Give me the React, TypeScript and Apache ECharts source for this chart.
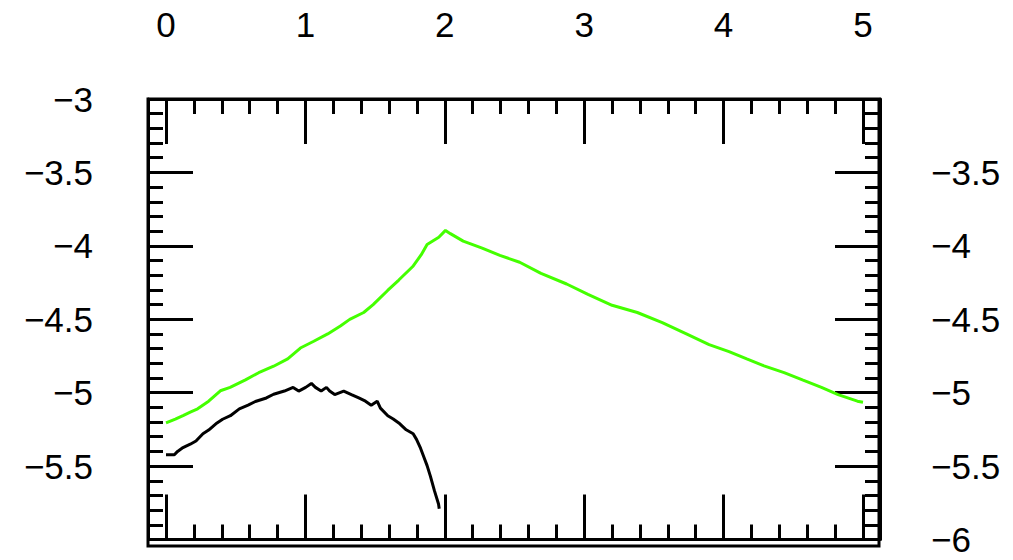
import React, { useEffect, useRef } from "react";
import * as echarts from "echarts";

const xTickLabels = ["0", "1", "2", "3", "4", "5"];
const leftHidden = [-6];
const rightHidden = [-3];

const greenX = [0, 0.067, 0.126, 0.174, 0.227, 0.306, 0.39, 0.46, 0.57, 0.665, 0.772, 0.873, 0.964, 1.06, 1.16, 1.251, 1.318, 1.418, 1.486, 1.59, 1.67, 1.77, 1.83, 1.873, 1.957, 2.005, 2.04, 2.132, 2.268, 2.395, 2.537, 2.69, 2.874, 3.027, 3.2, 3.381, 3.56, 3.733, 3.896, 4.039, 4.166, 4.29, 4.434, 4.57, 4.702, 4.821, 4.96, 5.0];
const greenY = [-5.206, -5.18, -5.154, -5.132, -5.11, -5.058, -4.987, -4.964, -4.913, -4.864, -4.82, -4.77, -4.696, -4.65, -4.6, -4.546, -4.501, -4.454, -4.4, -4.304, -4.233, -4.141, -4.062, -3.991, -3.942, -3.895, -3.917, -3.968, -4.015, -4.065, -4.112, -4.188, -4.26, -4.331, -4.405, -4.454, -4.523, -4.6, -4.673, -4.72, -4.77, -4.817, -4.864, -4.915, -4.964, -5.013, -5.058, -5.065];

const blackX = [0, 0.06, 0.083, 0.122, 0.174, 0.215, 0.265, 0.306, 0.366, 0.406, 0.462, 0.526, 0.589, 0.641, 0.72, 0.772, 0.849, 0.912, 0.952, 1.002, 1.043, 1.072, 1.113, 1.151, 1.174, 1.21, 1.275, 1.33, 1.383, 1.431, 1.472, 1.515, 1.538, 1.591, 1.63, 1.67, 1.723, 1.773, 1.797, 1.826, 1.849, 1.873, 1.897, 1.926, 1.955, 1.96];
const blackY = [-5.423, -5.423, -5.4, -5.374, -5.351, -5.329, -5.28, -5.255, -5.206, -5.181, -5.157, -5.11, -5.085, -5.06, -5.036, -5.011, -4.989, -4.964, -4.989, -4.964, -4.937, -4.964, -4.989, -4.964, -4.989, -5.013, -4.989, -5.013, -5.036, -5.058, -5.085, -5.058, -5.105, -5.157, -5.179, -5.206, -5.253, -5.28, -5.318, -5.378, -5.436, -5.497, -5.57, -5.669, -5.758, -5.79];

const FONT = "'Liberation Sans Narrow', 'Liberation Sans', sans-serif";
const fmt = (v: number) => (v < 0 ? "\u2212" + String(Math.abs(v)) : String(v));

export default function App() {
  const ref = useRef<HTMLDivElement>(null);
  useEffect(() => {
    if (!ref.current) return;
    const chart = echarts.init(ref.current, null, { renderer: "svg" });
    const tickStyle = { color: "#000", width: 3 };
    const xCommon = {
      type: "value",
      min: 0,
      max: 5,
      interval: 1,
      splitLine: { show: false },
      axisLine: { show: true, lineStyle: { color: "#000", width: 3 } },
      axisTick: { show: true, inside: true, length: 45, lineStyle: tickStyle },
      minorTick: { show: true, splitNumber: 5, length: 15, lineStyle: tickStyle },
    };
    const yCommon = {
      type: "value",
      min: -6,
      max: -3,
      interval: 0.5,
      splitLine: { show: false },
      axisLine: { show: true, onZero: false, lineStyle: { color: "#000", width: 3 } },
      axisTick: { show: true, inside: true, length: 45, lineStyle: tickStyle },
      minorTick: { show: true, splitNumber: 5, length: 15, lineStyle: tickStyle },
    };
    const yLabel = {
      show: true,
      color: "#000",
      fontFamily: FONT,
      fontSize: 35,
      lineHeight: 30,
      padding: [0, 0, 11, 0],
    };
    chart.setOption({
      animation: false,
      backgroundColor: "#fff",
      grid: { left: 166, right: 150, top: 99, bottom: 14, containLabel: false },
      xAxis: [
        {
          ...xCommon,
          position: "top",
          axisLabel: {
            show: true,
            margin: 57,
            color: "#000",
            fontFamily: FONT,
            fontSize: 35,
            formatter: (v: number) => xTickLabels[Math.round(v)] ?? "",
          },
        },
        {
          ...xCommon,
          position: "bottom",
          axisLabel: { show: false },
        },
      ],
      yAxis: [
        {
          ...yCommon,
          position: "left",
          offset: 18,
          axisLabel: {
            ...yLabel,
            margin: 55,
            formatter: (v: number) => (leftHidden.includes(v) ? "" : fmt(v)),
          },
        },
        {
          ...yCommon,
          position: "right",
          offset: 17,
          axisLabel: {
            ...yLabel,
            margin: 51,
            formatter: (v: number) => (rightHidden.includes(v) ? "" : fmt(v)),
          },
        },
      ],
      graphic: [
        {
          type: "rect",
          shape: { x: 148, y: 99, width: 731, height: 447 },
          style: { fill: "none", stroke: "#000", lineWidth: 3 },
          z: 100,
        },
      ],
      series: [
        {
          type: "line",
          data: greenX.map((x, i) => [x, greenY[i]]),
          symbol: "none",
          lineStyle: { color: "#44ff00", width: 3 },
          xAxisIndex: 0,
          yAxisIndex: 0,
        },
        {
          type: "line",
          data: blackX.map((x, i) => [x, blackY[i]]),
          symbol: "none",
          lineStyle: { color: "#000", width: 3 },
          xAxisIndex: 0,
          yAxisIndex: 0,
        },
      ],
    });
    return () => chart.dispose();
  }, []);
  return (
    <div
      ref={ref}
      style={{ position: "fixed", left: 0, top: 0, width: 1013, height: 560, background: "#fff" }}
    />
  );
}
